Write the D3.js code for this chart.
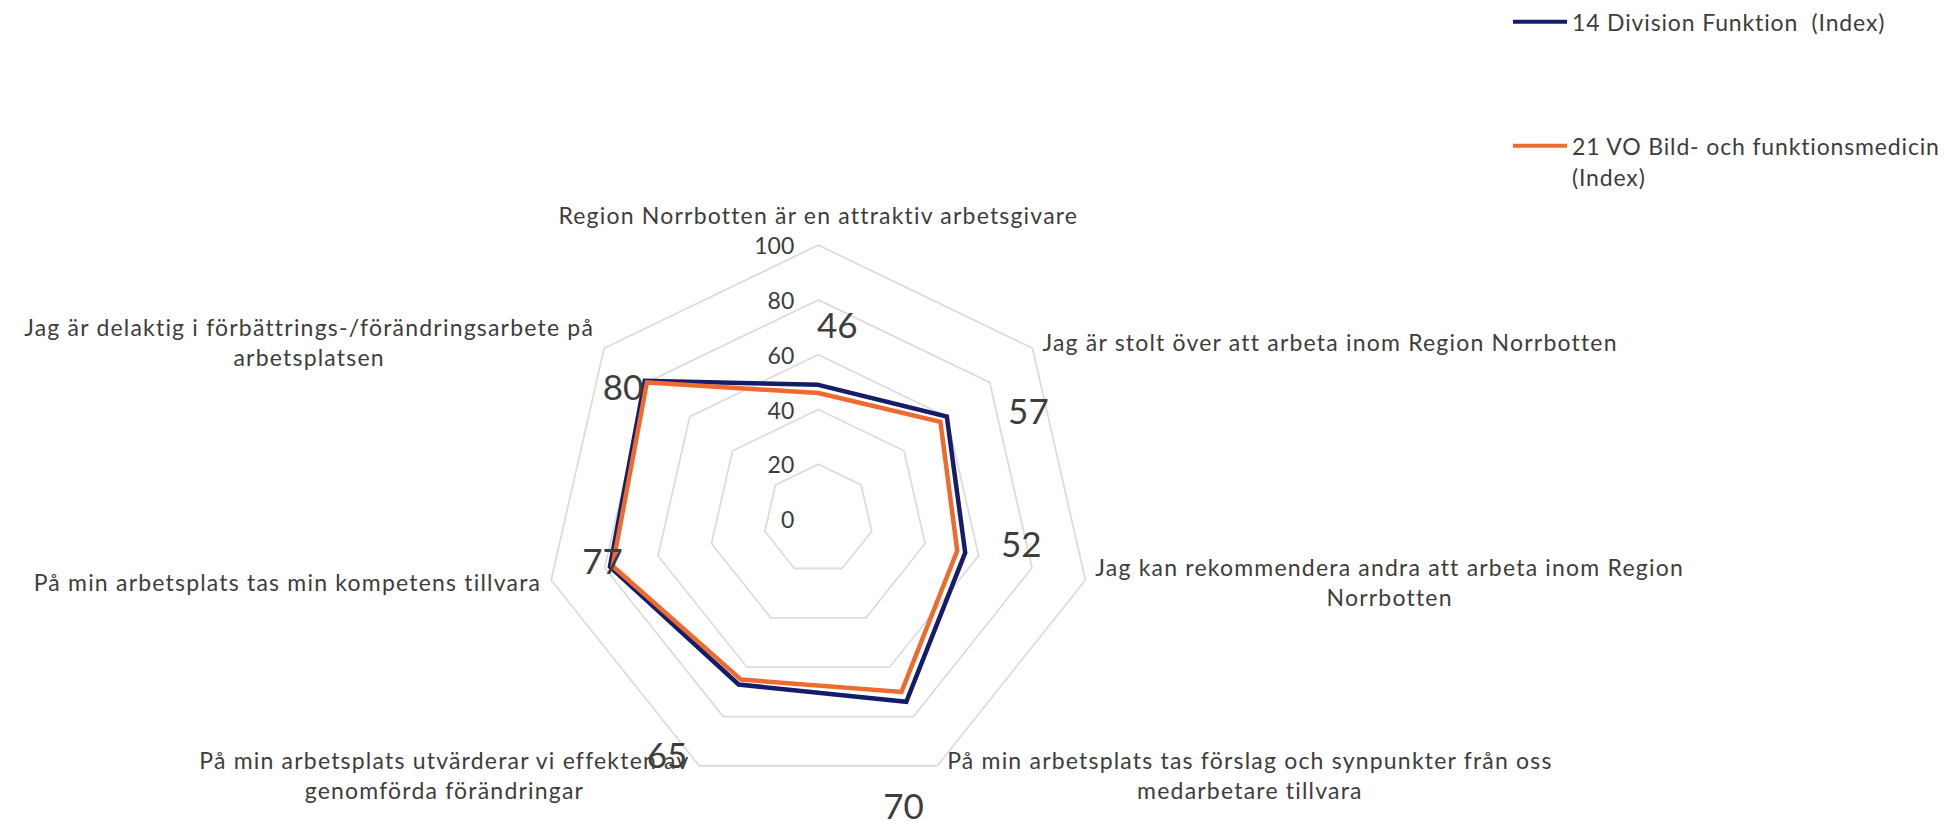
<!DOCTYPE html>
<html>
<head>
<meta charset="utf-8">
<script src="https://cdn.jsdelivr.net/npm/d3@7"></script>
<style>
  body { margin: 0; background: #fff; }
  svg text { font-family: Lato, "Noto Sans", sans-serif; fill: #3d3d3d; white-space: pre; }
</style>
</head>
<body>
<svg id="radar"></svg>
<script>
// kategorier (radbrytning med \n som i originalet)
const categories = [
  'Region Norrbotten är en attraktiv arbetsgivare',
  'Jag är stolt över att arbeta inom Region Norrbotten',
  'Jag kan rekommendera andra att arbeta inom Region\nNorrbotten',
  'På min arbetsplats tas förslag och synpunkter från oss\nmedarbetare tillvara',
  'På min arbetsplats utvärderar vi effekten av\ngenomförda förändringar',
  'På min arbetsplats tas min kompetens tillvara',
  'Jag är delaktig i förbättrings-/förändringsarbete på\narbetsplatsen'
];

const seriesNames = ['14 Division Funktion  (Index)', '21 VO Bild- och funktionsmedicin\n(Index)'];
const divisionValues = [49, 60, 55, 74, 67, 78, 81];
const voValues = [46, 57, 52, 70, 65, 77, 80];
const ticks = [0, 20, 40, 60, 80, 100];
const colors = ['#151d6b', '#ef6a2f'];

// manuellt flyttade dataetiketter (px från punkten)
const labelOffsets = [[19, -69], [88, -12], [64, -8], [2, 113], [-74, 74], [-10, -6], [-24, 4]];

const width = 1948, height = 821;
const cx = 818.3, cy = 519.1;

const svg = d3.select('#radar')
  .attr('width', width)
  .attr('height', height);

const r = d3.scaleLinear().domain([0, 100]).range([0, 274]);
const angle = d3.scalePoint().domain(d3.range(categories.length + 1)).range([0, 2 * Math.PI]);

const g = svg.append('g').attr('transform', `translate(${cx},${cy})`);

const pos = (i, v) => {
  const a = angle(i) - Math.PI / 2;
  return [r(v) * Math.cos(a), r(v) * Math.sin(a)];
};

const radial = d3.lineRadial()
  .angle((d, i) => angle(i))
  .radius(d => r(d))
  .curve(d3.curveLinearClosed);

// rutnät
g.append('g')
  .selectAll('path')
  .data(ticks.filter(t => t > 0))
  .join('path')
  .attr('d', t => radial(categories.map(() => t)))
  .attr('fill', 'none')
  .attr('stroke', '#dcdcdc')
  .attr('stroke-width', 1.75);

// axeletiketter
g.append('g')
  .selectAll('text')
  .data(ticks)
  .join('text')
  .attr('x', -24)
  .attr('y', t => -r(t))
  .attr('text-anchor', 'end')
  .attr('dominant-baseline', 'central')
  .style('font-size', '23px')
  .text(t => t);

// serier
g.append('g')
  .selectAll('path')
  .data([divisionValues, voValues])
  .join('path')
  .attr('d', d => radial(d))
  .attr('fill', 'none')
  .attr('stroke', (d, i) => colors[i])
  .attr('stroke-width', 4.5)
  .attr('stroke-linejoin', 'miter');

// dataetiketter
g.append('g')
  .selectAll('text')
  .data(voValues)
  .join('text')
  .attr('x', (v, i) => pos(i, v)[0] + labelOffsets[i][0])
  .attr('y', (v, i) => pos(i, v)[1] + labelOffsets[i][1])
  .attr('text-anchor', 'middle')
  .attr('dominant-baseline', 'central')
  .style('font-size', '35px')
  .text(v => v);

// kategorietiketter
const lineH = 30;
const catG = g.append('g');
categories.forEach((c, i) => {
  const lines = c.split('\n');
  const [vx, vy] = pos(i, 100);
  const a = angle(i) - Math.PI / 2;
  const cos = Math.cos(a), sin = Math.sin(a);
  const t = catG.append('text')
    .style('font-size', '23px')
    .style('letter-spacing', '1.2px');
  lines.forEach(l => t.append('tspan').attr('dominant-baseline', 'central').text(l));
  const tspans = t.selectAll('tspan').nodes();
  const w = d3.max(tspans, n => n.getComputedTextLength());
  let midX, midY;
  if (Math.abs(cos) < 0.1) {
    midX = vx;
    midY = vy - 15 - lines.length * lineH / 2;
  } else {
    midX = cos > 0 ? vx + 10 + w / 2 : vx - 10 - w / 2;
    midY = vy + 10 * sin;
  }
  tspans.forEach((n, j) => {
    d3.select(n)
      .attr('x', midX)
      .attr('y', midY + (j - (lines.length - 1) / 2) * lineH)
      .attr('text-anchor', 'middle');
  });
});

// förklaring
const legendY = [21.7, 145.7];
const leg = svg.append('g');
seriesNames.forEach((s, i) => {
  leg.append('line')
    .attr('x1', 1513).attr('x2', 1567)
    .attr('y1', legendY[i]).attr('y2', legendY[i])
    .attr('stroke', colors[i])
    .attr('stroke-width', 4);
  const t = leg.append('text')
    .style('font-size', '23px')
    .style('letter-spacing', '0.85px');
  s.split('\n').forEach((l, j) => {
    t.append('tspan')
      .attr('x', 1572)
      .attr('y', legendY[i] + j * 31)
      .attr('dominant-baseline', 'central')
      .text(l);
  });
});
</script>
</body>
</html>
